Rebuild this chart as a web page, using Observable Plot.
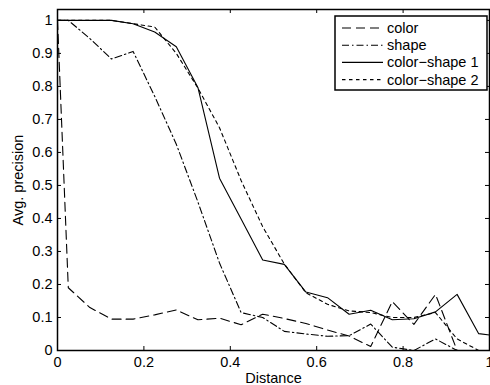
<!DOCTYPE html>
<html><head><meta charset="utf-8">
<script src="https://cdn.jsdelivr.net/npm/d3@7"></script>
<script src="https://cdn.jsdelivr.net/npm/@observablehq/plot@0.6"></script>
<style>
body{margin:0;background:#fff;}
#chart svg{font-family:"Liberation Sans",Arial,Helvetica,sans-serif;}
</style>
</head><body><div id="chart"></div>
<script>
const distance = [0, 0.025, 0.075, 0.125, 0.175, 0.225, 0.275, 0.325, 0.375, 0.425, 0.475, 0.525, 0.575, 0.625, 0.675, 0.725, 0.775, 0.825, 0.875, 0.925, 0.975, 1];
const colorVals = [1.0, 0.19, 0.13, 0.095, 0.095, 0.108, 0.123, 0.093, 0.098, 0.078, 0.11, 0.097, 0.082, 0.062, 0.044, 0.012, 0.148, 0.079, 0.17, 0.0, 0.0, 0.0];
const shapeVals = [1.0, 1.0, 0.945, 0.883, 0.906, 0.77, 0.625, 0.45, 0.265, 0.115, 0.1, 0.058, 0.05, 0.043, 0.045, 0.08, 0.01, 0.0, 0.035, 0.0, 0.0, 0.0];
const colorShape1 = [1.0, 1.0, 1.0, 1.0, 0.99, 0.965, 0.92, 0.797, 0.522, 0.398, 0.274, 0.261, 0.177, 0.16, 0.11, 0.122, 0.093, 0.096, 0.117, 0.17, 0.051, 0.047];
const colorShape2 = [1.0, 1.0, 1.0, 1.0, 0.99, 0.98, 0.9, 0.795, 0.675, 0.515, 0.375, 0.262, 0.175, 0.14, 0.12, 0.115, 0.1, 0.1, 0.115, 0.035, 0.0, 0.0];
const seriesNames = ["color", "shape", "color\u2212shape 1", "color\u2212shape 2"];
const seriesValues = [colorVals, shapeVals, colorShape1, colorShape2];
const dashes = ["9,5", "7,3,1.5,3", undefined, "3.5,3.5"];
const xTicks = [0, 0.2, 0.4, 0.6, 0.8, 1];
const yTicks = [0, 0.1, 0.2, 0.3, 0.4, 0.5, 0.6, 0.7, 0.8, 0.9, 1];

const W = 490, H = 385, mL = 57, mR = 1, mT = 9, mB = 35;
const frameW = W - mL - mR, frameH = H - mT - mB, tk = 4;
const FONT = '"Liberation Sans",Arial,Helvetica,sans-serif';

const rows = seriesNames.flatMap((name, s) => distance.map((d, i) => ({series: name, x: d, y: seriesValues[s][i]})));

const plot = Plot.plot({
  width: W, height: H,
  marginLeft: mL, marginRight: mR, marginTop: mT, marginBottom: mB,
  style: {fontFamily: FONT, fontSize: "14.5px", background: "white", color: "black", overflow: "hidden"},
  x: {domain: [0, 1]},
  y: {domain: [0, 1.033]},
  marks: [
    ...seriesNames.map((name, s) => Plot.line(rows.filter(r => r.series === name), {
      x: "x", y: "y", stroke: "black", strokeWidth: 1.1,
      ...(dashes[s] ? {strokeDasharray: dashes[s]} : {})
    })),
    Plot.tickX(xTicks, {x: d => d, insetTop: frameH - tk, stroke: "black"}),
    Plot.tickX(xTicks, {x: d => d, insetBottom: frameH - tk, stroke: "black"}),
    Plot.tickY(yTicks, {y: d => d, insetRight: frameW - tk, stroke: "black"}),
    Plot.tickY(yTicks, {y: d => d, insetLeft: frameW - tk, stroke: "black"}),
    Plot.axisX(xTicks, {tickSize: 0, tickPadding: 6, tickFormat: d => String(d), label: "Distance", labelAnchor: "center", labelArrow: false}),
    Plot.axisY(yTicks, {tickSize: 0, tickPadding: 5, tickFormat: d => String(d), label: "Avg. precision", labelAnchor: "center", labelOffset: 45, labelArrow: false}),
    Plot.frame({stroke: "black", strokeWidth: 1.5})
  ]
});

const svg = d3.select(plot);
const lg = svg.append("g").attr("font-family", FONT).attr("font-size", 14.5).attr("fill", "black").attr("text-anchor", "start");
lg.append("rect").attr("x", 335).attr("y", 16).attr("width", 152).attr("height", 74)
  .attr("fill", "white").attr("stroke", "black").attr("stroke-width", 1.5);
seriesNames.forEach((name, i) => {
  const y = 28 + i * 17.2;
  const ln = lg.append("line").attr("x1", 342).attr("x2", 383).attr("y1", y).attr("y2", y)
    .attr("stroke", "black").attr("stroke-width", 1.1);
  if (dashes[i]) ln.attr("stroke-dasharray", dashes[i]);
  lg.append("text").attr("x", 387).attr("y", y).attr("dy", "0.35em").attr("text-anchor", "start").text(name);
});

document.getElementById("chart").appendChild(plot);
</script>
</body></html>
